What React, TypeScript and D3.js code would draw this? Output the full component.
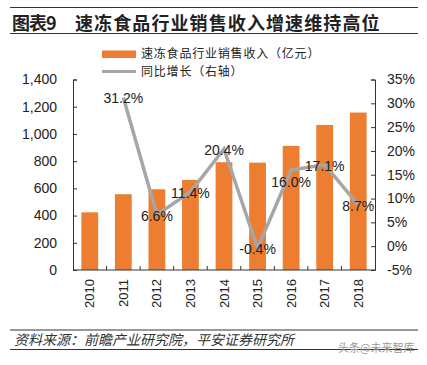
import React, { useEffect, useRef } from 'react';
import * as d3 from 'd3';

const years = ['2010', '2011', '2012', '2013', '2014', '2015', '2016', '2017', '2018'];
const revenue = [424, 557, 593, 662, 792, 789, 912, 1066, 1157];
const growth = [null, 31.2, 6.6, 11.4, 20.4, -0.4, 16.0, 17.1, 8.7];
const leftTicks = [0, 200, 400, 600, 800, 1000, 1200, 1400];
const rightTicks = [-5, 0, 5, 10, 15, 20, 25, 30, 35];

const W = 427;
const H = 365;
const ORANGE = '#ED7D31';
const GRAY = '#A6A6A6';
const INK = '#222';
const FONT = 'Liberation Sans, Arial, sans-serif';
const CJK = '"Noto Sans CJK SC", sans-serif';

const App: React.FC = () => {
  const ref = useRef<SVGSVGElement>(null);

  useEffect(() => {
    if (!ref.current) return;
    const svg = d3.select(ref.current);
    svg.selectAll('*').remove();

    const left = 73, right = 375, top = 79.5, bottom = 270;

    const x = d3.scaleBand().domain(years).range([left, right]).padding(0.5).paddingOuter(0.25);
    const xb = d3.scaleBand().domain(years).range([left, right]); // for ticks / centers
    const yL = d3.scaleLinear().domain([0, 1400]).range([bottom, top]);
    const yR = d3.scaleLinear().domain([-5, 35]).range([bottom, top]);

    // header
    svg.append('line').attr('x1', 10).attr('x2', 418).attr('y1', 7.5).attr('y2', 7.5)
      .attr('stroke', '#333').attr('stroke-width', 1);
    svg.append('line').attr('x1', 10).attr('x2', 418).attr('y1', 33.5).attr('y2', 33.5)
      .attr('stroke', '#333').attr('stroke-width', 1);
    svg.append('text').attr('x', 12).attr('y', 30).text('图表9')
      .attr('font-family', CJK).attr('font-weight', 'bold').attr('font-size', 18)
      .attr('letter-spacing', -1).attr('fill', INK);
    svg.append('text').attr('x', 75).attr('y', 30).text('速冻食品行业销售收入增速维持高位')
      .attr('font-family', CJK).attr('font-weight', 'bold').attr('font-size', 18)
      .attr('letter-spacing', 1.1).attr('fill', INK);

    // legend
    svg.append('rect').attr('x', 102).attr('y', 50.5).attr('width', 34).attr('height', 7.5).attr('fill', ORANGE);
    svg.append('line').attr('x1', 102).attr('x2', 136).attr('y1', 71.5).attr('y2', 71.5)
      .attr('stroke', GRAY).attr('stroke-width', 3);
    svg.append('text').attr('x', 141).attr('y', 54).attr('dy', '0.35em').text('速冻食品行业销售收入（亿元）')
      .attr('font-family', CJK).attr('font-size', 12).attr('letter-spacing', 0.8).attr('fill', INK);
    svg.append('text').attr('x', 141).attr('y', 72).attr('dy', '0.35em').text('同比增长（右轴）')
      .attr('font-family', CJK).attr('font-size', 12).attr('letter-spacing', 0.8).attr('fill', INK);

    // bars
    svg.append('g').selectAll('rect').data(revenue).enter().append('rect')
      .attr('x', (d, i) => x(years[i])!)
      .attr('width', x.bandwidth())
      .attr('y', d => yL(d))
      .attr('height', d => bottom - yL(d))
      .attr('fill', ORANGE);

    // axes
    const axisColor = '#333';
    const gL = svg.append('g').attr('transform', `translate(${left},0)`)
      .call(d3.axisRight(yL).tickValues(leftTicks).tickSize(4).tickFormat(() => ''));
    gL.selectAll('path,line').attr('stroke', axisColor);
    svg.append('g').selectAll('text').data(leftTicks).enter().append('text')
      .attr('x', 57).attr('y', d => yL(d)).attr('dy', '0.35em').attr('text-anchor', 'end')
      .text(d => d3.format(',')(d))
      .attr('font-family', FONT).attr('font-size', 14).attr('fill', INK);

    const gR = svg.append('g').attr('transform', `translate(${right},0)`)
      .call(d3.axisLeft(yR).tickValues(rightTicks).tickSize(4).tickFormat(() => ''));
    gR.selectAll('path,line').attr('stroke', axisColor);
    svg.append('g').selectAll('text').data(rightTicks).enter().append('text')
      .attr('x', 387).attr('y', d => yR(d)).attr('dy', '0.35em')
      .text(d => `${d}%`)
      .attr('font-family', FONT).attr('font-size', 14).attr('fill', INK);

    // x axis
    svg.append('line').attr('x1', left).attr('x2', right).attr('y1', bottom).attr('y2', bottom)
      .attr('stroke', axisColor);
    svg.append('g').selectAll('line').data(years.slice(1)).enter().append('line')
      .attr('x1', d => xb(d)!).attr('x2', d => xb(d)!)
      .attr('y1', bottom).attr('y2', bottom - 4).attr('stroke', axisColor);
    svg.append('g').selectAll('text').data(years).enter().append('text')
      .attr('transform', d => `translate(${xb(d)! + xb.bandwidth() / 2},279) rotate(-90)`)
      .attr('text-anchor', 'end').attr('dy', '0.35em')
      .text(d => d)
      .attr('font-family', FONT).attr('font-size', 13).attr('fill', INK);

    // growth line
    const pts = growth.map((g, i) => ({ year: years[i], g })).filter(p => p.g !== null) as { year: string; g: number }[];
    const cx = (yr: string) => xb(yr)! + xb.bandwidth() / 2;
    const line = d3.line<{ year: string; g: number }>().x(d => cx(d.year)).y(d => yR(d.g));
    svg.append('path').datum(pts).attr('d', line).attr('fill', 'none')
      .attr('stroke', GRAY).attr('stroke-width', 3.5).attr('stroke-linejoin', 'miter');

    svg.append('g').selectAll('text').data(pts).enter().append('text')
      .attr('x', d => cx(d.year))
      .attr('y', d => yR(d.g) + (d.year === '2016' ? 12 : 1))
      .attr('dy', '0.35em').attr('text-anchor', 'middle')
      .text(d => `${d.g.toFixed(1)}%`)
      .attr('font-family', FONT).attr('font-size', 14).attr('fill', INK);

    // footer
    svg.append('line').attr('x1', 10).attr('x2', 418).attr('y1', 330).attr('y2', 330)
      .attr('stroke', '#333').attr('stroke-width', 1);
    svg.append('line').attr('x1', 10).attr('x2', 418).attr('y1', 349.5).attr('y2', 349.5)
      .attr('stroke', '#333').attr('stroke-width', 1);
    svg.append('text').attr('x', 14).attr('y', 345).text('资料来源：前瞻产业研究院，平安证券研究所')
      .attr('font-family', CJK).attr('font-size', 14).attr('font-style', 'italic')
      .attr('fill', '#333');
    svg.append('text').attr('x', 338).attr('y', 352).text('头条@未来智库')
      .attr('font-family', CJK).attr('font-size', 11).attr('fill', '#999');
  }, []);

  return (
    <svg ref={ref} width={W} height={H}
      style={{ position: 'absolute', left: 0, top: 0, background: '#fff' }} />
  );
};

export default App;
